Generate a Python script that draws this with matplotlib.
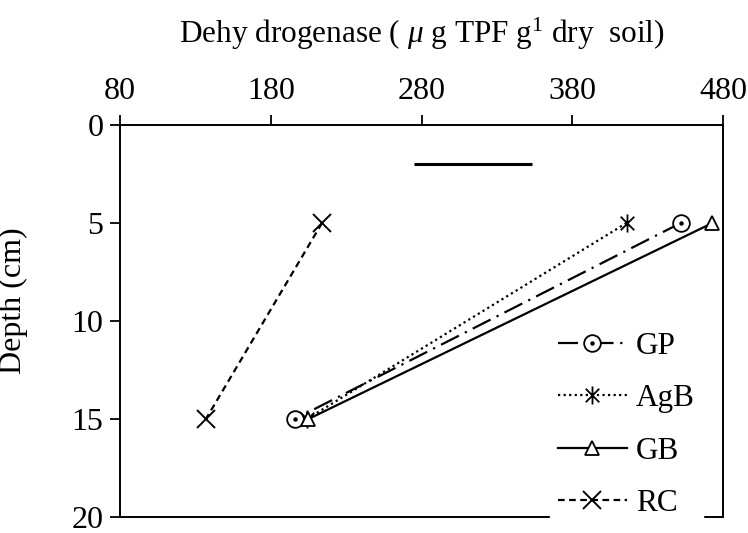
import matplotlib
matplotlib.use("Agg")
import matplotlib.pyplot as plt
from matplotlib.path import Path
from matplotlib.legend_handler import HandlerTuple

plt.rcParams['font.family'] = ['Liberation Serif', 'DejaVu Serif']
plt.rcParams['mathtext.fontset'] = 'custom'
plt.rcParams['mathtext.rm'] = 'Liberation Serif'
plt.rcParams['mathtext.it'] = 'Liberation Serif:italic'

depth = [5, 15]
gp = [452, 196]
agb = [416, 204]
gb = [473, 205]
rc = [214, 137]
series_names = ["GP", "AgB", "GB", "RC"]
xticks = [80, 180, 280, 380, 480]
yticks = [0, 5, 10, 15, 20]
lsd_x = [275, 353]
lsd_y = [2, 2]

star = Path([(0, -1), (0, 1), (-0.75, -0.75), (0.75, 0.75), (-0.75, 0.75), (0.75, -0.75)],
            [Path.MOVETO, Path.LINETO, Path.MOVETO, Path.LINETO, Path.MOVETO, Path.LINETO])

fig = plt.figure(figsize=(7.48, 5.33), dpi=100)
ax = fig.add_axes([120/748, 1-517/533, (723-120)/748, (517-125)/533])

lw = 1.6
l_gp, = ax.plot(gp, depth, color='black', lw=lw, dashes=(9, 3, 1, 3), marker='o', ms=12,
                mfc='white', mec='black', mew=1.3)
d_gp, = ax.plot(gp, depth, ls='none', marker='o', ms=2.2, mfc='black', mec='black')
l_agb, = ax.plot(agb, depth, color='black', lw=lw, ls=(0, (1, 1.5)), marker=star, ms=13,
                 mfc='none', mec='black', mew=1.3)
l_gb, = ax.plot(gb, depth, color='black', lw=lw, ls='-', marker='^', ms=10,
                mfc='white', mec='black', mew=1.3)
l_rc, = ax.plot(rc, depth, color='black', lw=lw, ls=(0, (3, 2)), marker='x', ms=13,
                mec='black', mew=1.4)
ax.plot(lsd_x, lsd_y, color='black', lw=2.2, solid_capstyle='butt')

ax.set_xlim(xticks[0], xticks[-1])
ax.set_ylim(yticks[-1], yticks[0])
ax.xaxis.tick_top()
ax.xaxis.set_label_position('top')
ax.set_xticks(xticks)
ax.set_yticks(yticks)
ax.tick_params(axis='both', direction='out', length=7, width=1.3, labelsize=23, pad=5,
               colors='black')
ax.tick_params(axis='x', pad=7)
for s in ax.spines.values():
    s.set_linewidth(1.4)
    s.set_color('black')

ax.set_xlabel(r"Dehy drogenase ( $\mu$ g TPF g$^{1}$ dry  soil)", fontsize=22.5, labelpad=24)
ax.set_ylabel("Depth (cm)", fontsize=23)
ax.yaxis.set_label_coords(-0.153, 0.551)

leg = ax.legend([(l_gp, d_gp), l_agb, l_gb, l_rc], series_names,
                handler_map={tuple: HandlerTuple(ndivide=1)},
                loc='upper left', bbox_to_anchor=(550/748, 1-324/533),
                bbox_transform=fig.transFigure, frameon=True, fontsize=22.5,
                handlelength=2.2, labelspacing=0.75, handletextpad=0.3,
                borderpad=0.25, borderaxespad=0)
leg.get_frame().set_facecolor('white')
leg.get_frame().set_edgecolor('white')
leg.get_frame().set_alpha(1)

fig.savefig("out.png", dpi=100)
